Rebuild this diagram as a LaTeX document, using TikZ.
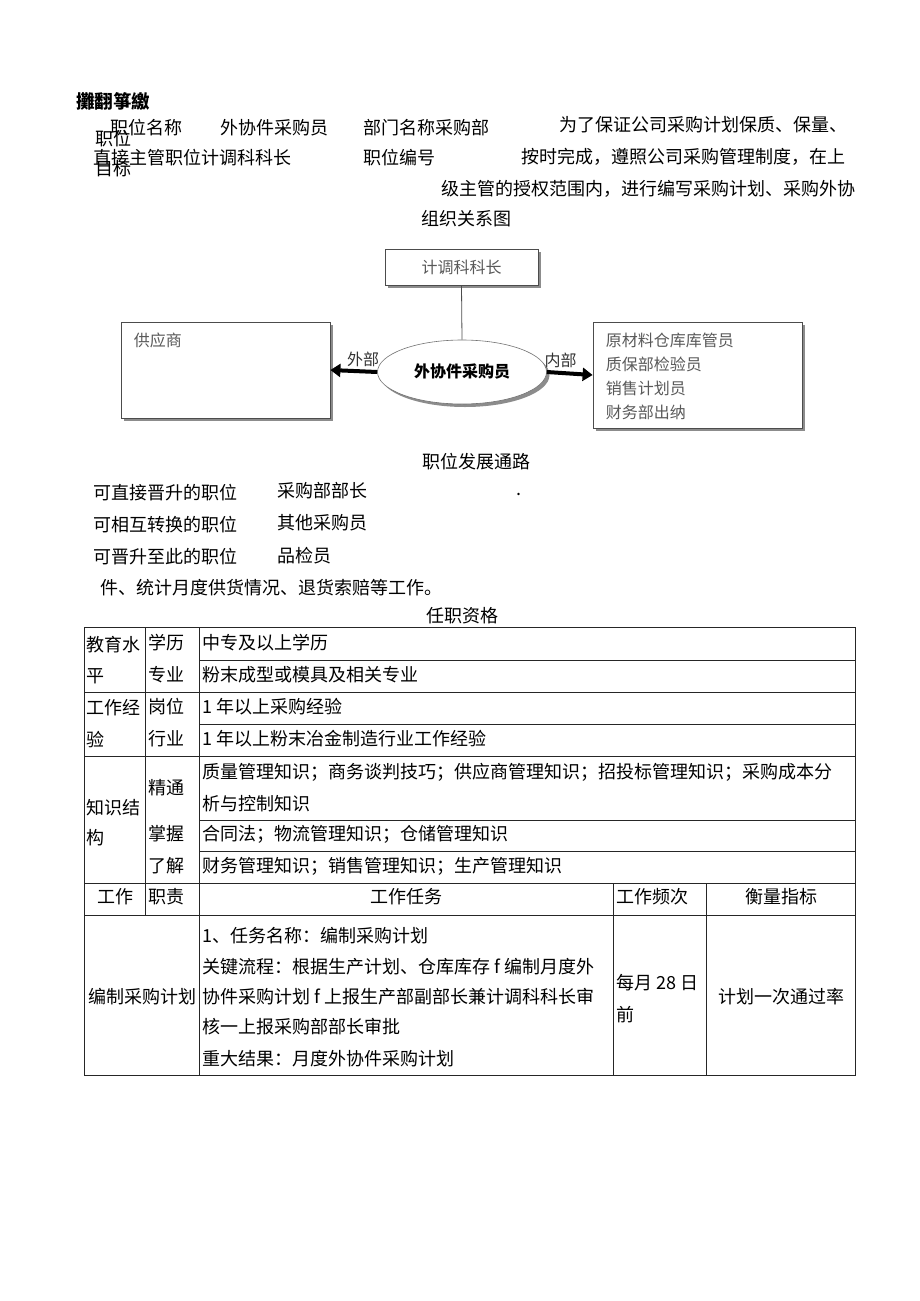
\documentclass[tikz,border=0pt]{standalone}
\usepackage{fontspec}
\setmainfont{Noto Sans CJK SC}
\usetikzlibrary{shapes.geometric,arrows.meta,shadows}
\tikzset{
  txt/.style={anchor=west,inner sep=0pt,font=\fontsize{18}{18}\selectfont},
  mid/.style={inner sep=0pt,font=\fontsize{18}{18}\selectfont},
  orgbox/.style={draw=black!70,fill=white,line width=0.8pt,
    drop shadow={shadow xshift=3pt,shadow yshift=-3pt,fill=black!45,opacity=1}},
  orgtxt/.style={inner sep=0pt,text=black!65,font=\fontsize{16}{16}\selectfont},
  tbl/.style={line width=0.8pt,black!85},
  flowarrow/.style={line width=4pt,-{Triangle[length=10pt,width=13pt]}}
}
\begin{document}
\begin{tikzpicture}[x=1pt,y=-1pt]
\useasboundingbox (0,0) rectangle (920,1301);

% header
\node[txt,font=\bfseries\fontsize{18.5}{18.5}\selectfont] (title) at (76,101) {攤翻箏繳};
\node[txt] (posname) at (110,128) {职位名称};
\node[txt] (posval) at (220,128) {外协件采购员};
\node[txt] (dept) at (363,128) {部门名称采购部};
\node[txt] (goalA) at (95,139) {职位};
\node[txt] (boss) at (93,158) {直接主管职位计调科科长};
\node[txt] (goalB) at (95,169) {目标};
\node[txt] (posno) at (363,158) {职位编号};
\node[txt] (paraA) at (559,125) {为了保证公司采购计划保质、保量、};
\node[txt] (paraB) at (521,157) {按时完成，遵照公司采购管理制度，在上};
\node[txt] (paraC) at (441,189) {级主管的授权范围内，进行编写采购计划、采购外协};
\node[mid] (orgtitle) at (466,219) {组织关系图};

% org chart
\node[orgbox,minimum width=153pt,minimum height=36pt] (mgr) at (461.5,267) {};
\node[orgtxt] (mgrtxt) at (mgr.center) {计调科科长};
\node[orgbox,minimum width=209pt,minimum height=96pt] (sup) at (225.5,370) {};
\node[orgtxt,anchor=west] (suptxt) at ([xshift=13pt,yshift=-19pt]sup.north west) {供应商};
\node[orgbox,minimum width=209pt,minimum height=106pt] (inner) at (697.5,375) {};
\node[orgtxt,anchor=north west,align=left,font=\fontsize{16}{24}\selectfont] (innertxt)
  at ([xshift=13pt,yshift=-11pt]inner.north west) {原材料仓库库管员\\质保部检验员\\销售计划员\\财务部出纳};
\node[ellipse,orgbox,draw=black!55,line width=0.6pt,minimum width=169pt,minimum height=64pt] (buyer) at (462,372) {};
\node[inner sep=0pt,font=\bfseries\fontsize{16}{16}\selectfont] (buyertxt) at (buyer.center) {外协件采购员};
\draw[black!70,line width=0.8pt] (mgr.south) -- (buyer.north);
\draw[flowarrow] (buyer.west) -- (sup.east)
  node[pos=0.3,above=3pt,orgtxt,text=black!80] (outlbl) {外部};
\draw[flowarrow] (buyer.east) -- (inner.west)
  node[pos=0.3,above=3pt,orgtxt,text=black!80] (inlbl) {内部};

% career path
\node[mid] (devtitle) at (476,462) {职位发展通路};
\node[txt] (upA) at (93,493) {可直接晋升的职位};
\node[txt] (upAval) at (277,491) {采购部部长};
\node[txt] (dot) at (516,494) {.};
\node[txt] (swap) at (93,525) {可相互转换的职位};
\node[txt] (swapval) at (277,523) {其他采购员};
\node[txt] (from) at (93,557) {可晋升至此的职位};
\node[txt] (fromval) at (277,556) {品检员};
\node[txt] (tail) at (100,588) {件、统计月度供货情况、退货索赔等工作。};
\node[mid] (qualtitle) at (462,616) {任职资格};

% table
\draw[tbl] (84,627) rectangle (855,1075);
\foreach \y/\x in {660/199,692/84,724/199,756/84,820/199,851/199,883/84,915/84}
  \draw[tbl] (\x,\y) -- (855,\y);
\draw[tbl] (145,627) -- (145,915);
\draw[tbl] (199,627) -- (199,1075);
\draw[tbl] (613,883) -- (613,1075);
\draw[tbl] (706,883) -- (706,1075);

\node[txt] (eduA) at (86,645) {教育水};
\node[txt] (eduB) at (86,676) {平};
\node[txt] (expA) at (86,708) {工作经};
\node[txt] (expB) at (86,740) {验};
\node[txt] (knowA) at (86,808) {知识结};
\node[txt] (knowB) at (86,838) {构};

\node[txt] (degree) at (148,643) {学历};
\node[txt] (major) at (148,675) {专业};
\node[txt] (post) at (148,707) {岗位};
\node[txt] (trade) at (148,739) {行业};
\node[txt] (master) at (148,788) {精通};
\node[txt] (grasp) at (148,834) {掌握};
\node[txt] (know) at (148,866) {了解};

\node[txt] (degreev) at (202,643) {中专及以上学历};
\node[txt] (majorv) at (202,675) {粉末成型或模具及相关专业};
\node[txt] (postv) at (202,707) {1 年以上采购经验};
\node[txt] (tradev) at (202,739) {1 年以上粉末冶金制造行业工作经验};
\node[txt] (masterA) at (202,772) {质量管理知识；商务谈判技巧；供应商管理知识；招投标管理知识；采购成本分};
\node[txt] (masterB) at (202,804) {析与控制知识};
\node[txt] (graspv) at (202,834) {合同法；物流管理知识；仓储管理知识};
\node[txt] (knowv) at (202,866) {财务管理知识；销售管理知识；生产管理知识};

\node[mid] (hwork) at (115,897) {工作};
\node[txt] (hduty) at (148,897) {职责};
\node[mid] (htask) at (406,897) {工作任务};
\node[txt] (hfreq) at (616,897) {工作频次};
\node[mid] (hmeas) at (781,897) {衡量指标};

\node[mid] (duty) at (142,997) {编制采购计划};
\node[txt] (taskA) at (202,936) {1、任务名称：编制采购计划};
\node[txt] (taskB) at (202,967) {关键流程：根据生产计划、仓库库存 f 编制月度外};
\node[txt] (taskC) at (202,997) {协件采购计划 f 上报生产部副部长兼计调科科长审};
\node[txt] (taskD) at (202,1027) {核一上报采购部部长审批};
\node[txt] (taskE) at (202,1059) {重大结果：月度外协件采购计划};
\node[txt] (freqA) at (616,983) {每月 28 日};
\node[txt] (freqB) at (616,1015) {前};
\node[mid] (meas) at (781,997) {计划一次通过率};
\end{tikzpicture}
\end{document}
